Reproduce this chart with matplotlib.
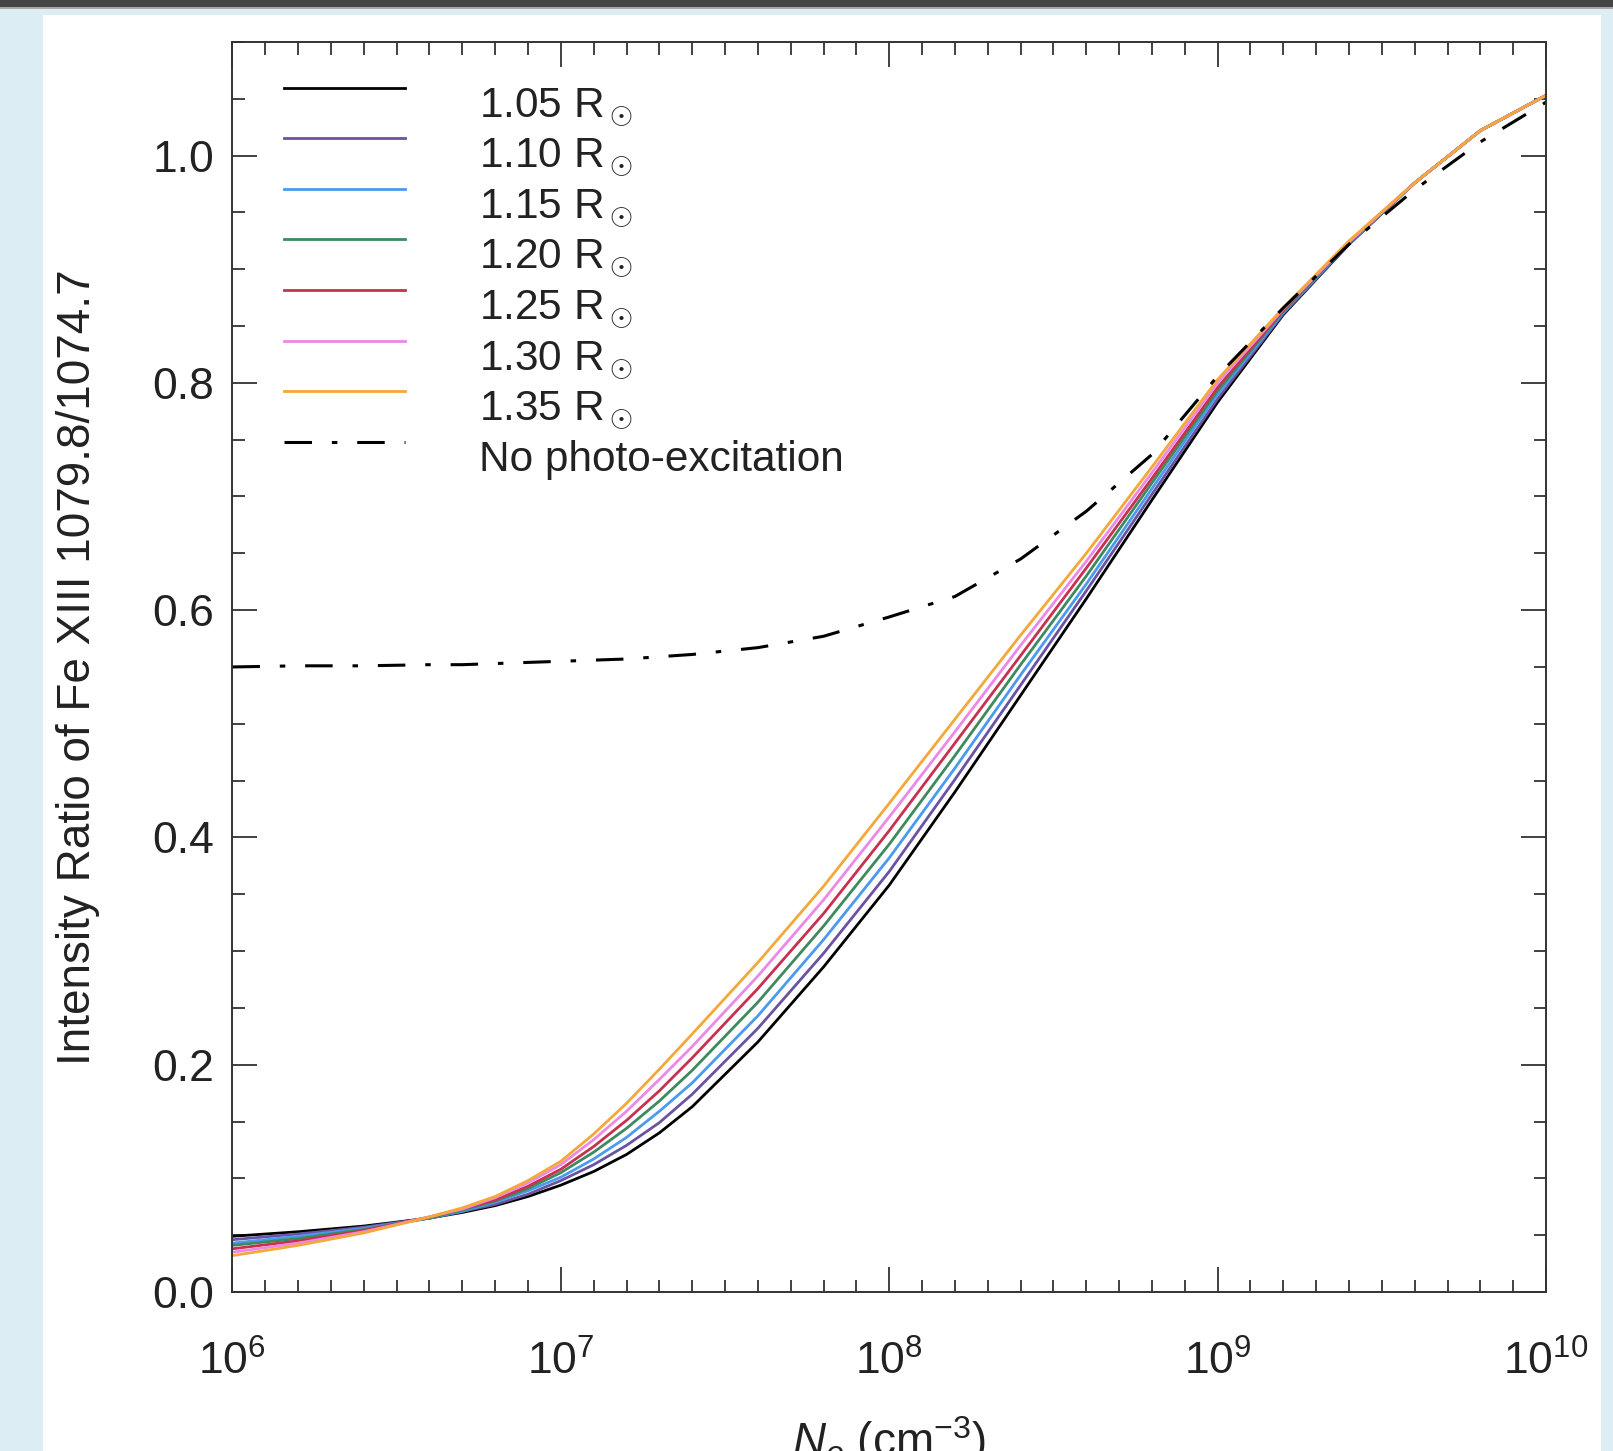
import numpy as np
import matplotlib
matplotlib.use("Agg")
import matplotlib.pyplot as plt
from matplotlib.patches import Rectangle
from matplotlib.ticker import FixedLocator, MultipleLocator, NullFormatter
from matplotlib.transforms import ScaledTranslation

plt.rcParams['font.family'] = ['Liberation Sans', 'DejaVu Sans']
plt.rcParams['mathtext.fontset'] = 'custom'
plt.rcParams['mathtext.rm'] = 'Liberation Sans'
plt.rcParams['mathtext.it'] = 'Liberation Sans:italic'

# electron density grid, log10(Ne / cm^-3)
log_ne = [6.0, 6.2, 6.4, 6.6, 6.7, 6.8, 6.9, 7.0, 7.1, 7.2, 7.3, 7.4, 7.6,
          7.8, 8.0, 8.2, 8.4, 8.6, 8.8, 9.0, 9.2, 9.4, 9.6, 9.8, 10.0]

# Fe XIII 1079.8/1074.7 ratio at each heliocentric distance
r105 = [0.049, 0.053, 0.058, 0.065, 0.070, 0.076, 0.084, 0.094, 0.106, 0.121, 0.140, 0.163, 0.220,
        0.286, 0.358, 0.440, 0.525, 0.610, 0.697, 0.783, 0.860, 0.922, 0.976, 1.022, 1.053]
r110 = [0.046, 0.051, 0.057, 0.065, 0.071, 0.077, 0.086, 0.098, 0.112, 0.129, 0.149, 0.174, 0.232,
        0.298, 0.370, 0.451, 0.534, 0.617, 0.702, 0.786, 0.861, 0.922, 0.976, 1.022, 1.053]
r115 = [0.043, 0.049, 0.056, 0.065, 0.071, 0.079, 0.089, 0.101, 0.117, 0.136, 0.159, 0.184, 0.243,
        0.310, 0.382, 0.461, 0.543, 0.623, 0.707, 0.790, 0.862, 0.923, 0.976, 1.022, 1.053]
r120 = [0.041, 0.047, 0.055, 0.065, 0.072, 0.080, 0.091, 0.105, 0.123, 0.144, 0.168, 0.195, 0.255,
        0.322, 0.394, 0.472, 0.552, 0.630, 0.712, 0.793, 0.863, 0.923, 0.976, 1.022, 1.053]
r125 = [0.038, 0.045, 0.054, 0.066, 0.073, 0.081, 0.093, 0.108, 0.128, 0.151, 0.177, 0.206, 0.267,
        0.333, 0.406, 0.483, 0.560, 0.637, 0.716, 0.796, 0.864, 0.924, 0.976, 1.022, 1.053]
r130 = [0.035, 0.043, 0.053, 0.066, 0.073, 0.083, 0.096, 0.112, 0.134, 0.159, 0.187, 0.216, 0.278,
        0.345, 0.418, 0.493, 0.569, 0.643, 0.721, 0.800, 0.865, 0.924, 0.976, 1.022, 1.053]
r135 = [0.032, 0.041, 0.052, 0.066, 0.074, 0.084, 0.098, 0.115, 0.139, 0.166, 0.196, 0.227, 0.290,
        0.357, 0.430, 0.504, 0.578, 0.650, 0.726, 0.803, 0.866, 0.925, 0.976, 1.022, 1.053]
no_photo = [0.550, 0.551, 0.551, 0.552, 0.552, 0.553, 0.554, 0.555, 0.556, 0.557, 0.559, 0.561, 0.567,
            0.577, 0.594, 0.612, 0.645, 0.687, 0.737, 0.806, 0.866, 0.922, 0.970, 1.012, 1.047]

heights = ['1.05', '1.10', '1.15', '1.20', '1.25', '1.30', '1.35']
colors = ['black', '#6b52a3', '#4a9af0', '#3d8a5e', '#c8304f', '#ec88e6', '#f5a83a']

ne = 10.0 ** np.array(log_ne)

fig = plt.figure(figsize=(16.13, 14.51), dpi=100, facecolor='#dcedf3')
# page panel and top bar, kept behind the axes
fig.patches.append(Rectangle((43 / 1613, 0), 1558 / 1613, 1436 / 1451,
                             transform=fig.transFigure, facecolor='white', edgecolor='none', zorder=-10))
fig.patches.append(Rectangle((0, 1 - 7 / 1451), 1, 7 / 1451,
                             transform=fig.transFigure, facecolor='#454545', edgecolor='none', zorder=-10))
fig.patches.append(Rectangle((0, 1 - 9 / 1451), 1, 2 / 1451,
                             transform=fig.transFigure, facecolor='#a8a8a8', edgecolor='none', zorder=-10))

ax = fig.add_axes([0.1441, 0.1096, 0.8144, 0.8615])
ax.set_facecolor('none')

for h, c, r in zip(heights, colors, [r105, r110, r115, r120, r125, r130, r135]):
    ax.plot(ne, r, color=c, lw=2.0, label=h + r' R$_\odot$')
ax.plot(ne, no_photo, color='black', lw=2.2, dashes=(9, 6.5, 1.8, 6.5),
        dash_capstyle='butt', label='No photo-excitation')

ax.set_xscale('log')
ax.set_xlim(1e6, 1e10)
ax.set_ylim(0.0, 1.1)

ax.xaxis.set_major_locator(FixedLocator([1e6, 1e7, 1e8, 1e9, 1e10]))
minor_x = [10.0 ** (d + k / 10) for d in range(6, 10) for k in range(1, 10)]
ax.xaxis.set_minor_locator(FixedLocator(minor_x))
ax.xaxis.set_minor_formatter(NullFormatter())
ax.set_xticklabels([r'$10^{6}$', r'$10^{7}$', r'$10^{8}$', r'$10^{9}$', r'$10^{10}$'])
ax.yaxis.set_major_locator(MultipleLocator(0.2))
ax.yaxis.set_minor_locator(MultipleLocator(0.05))
ax.yaxis.set_major_formatter(plt.FormatStrFormatter('%.1f'))

ax.tick_params(which='both', direction='in', top=True, right=True,
               color='#333333', width=1.3, labelsize=32, labelcolor='#222222')
ax.tick_params(which='major', length=18)
ax.tick_params(which='minor', length=9)
ax.tick_params(axis='x', which='major', pad=35)
ax.tick_params(axis='y', which='major', pad=13)
for s in ax.spines.values():
    s.set_linewidth(1.4)
    s.set_color('#333333')

ax.set_ylabel('Intensity Ratio of Fe XIII 1079.8/1074.7', fontsize=33, color='#222222')
ax.yaxis.set_label_coords(-0.101, 0.5)
ax.set_xlabel(r'$N_e$ (cm$^{-3}$)', fontsize=33, color='#222222')
ax.xaxis.set_label_coords(0.5, -0.0976)

leg = ax.legend(loc='upper left', bbox_to_anchor=(0.0297, 0.9866), frameon=False,
                fontsize=30.5, handlelength=2.85, handletextpad=1.75, labelspacing=0.18,
                borderaxespad=0.0, borderpad=0.3, labelcolor='#222222')
# labels sit a little below their line samples
shift = ScaledTranslation(0, -0.144, fig.dpi_scale_trans)
for t in leg.get_texts():
    t.set_transform(t.get_transform() + shift)

fig.savefig('out.png', dpi=100, facecolor=fig.get_facecolor())
